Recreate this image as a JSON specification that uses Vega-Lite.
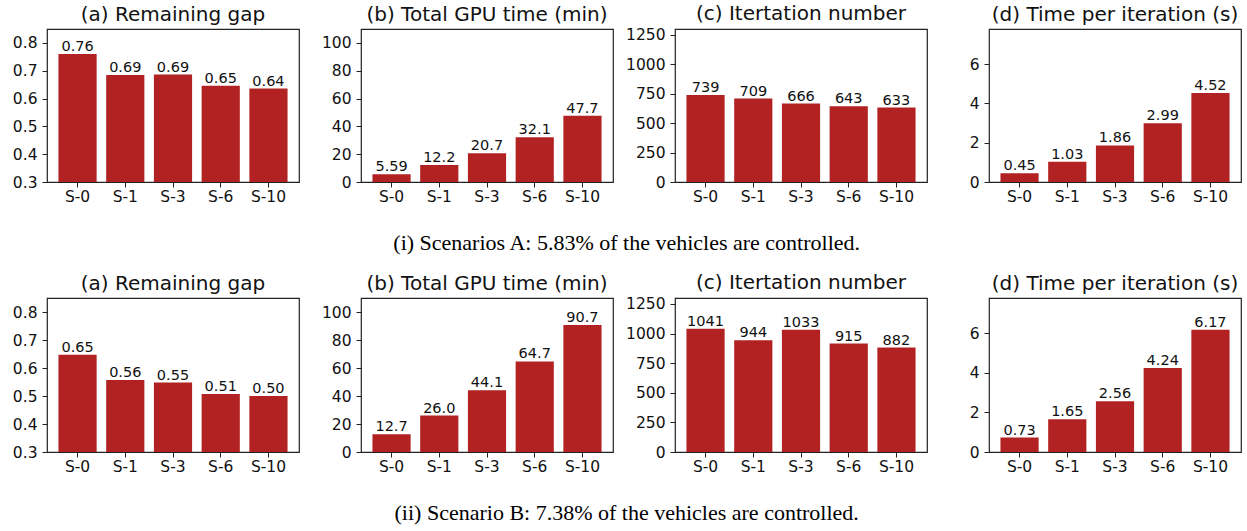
{
  "$schema": "https://vega.github.io/schema/vega-lite/v6.json",
  "padding": {"left": 11, "top": 3, "right": 2, "bottom": 2},
  "background": "white",
  "datasets": {
    "d": [
      {"sc": "A", "m": "a", "s": "S-0", "v": 0.76},
      {"sc": "A", "m": "a", "s": "S-1", "v": 0.685},
      {"sc": "A", "m": "a", "s": "S-3", "v": 0.686},
      {"sc": "A", "m": "a", "s": "S-6", "v": 0.646},
      {"sc": "A", "m": "a", "s": "S-10", "v": 0.636},
      {"sc": "A", "m": "b", "s": "S-0", "v": 5.59},
      {"sc": "A", "m": "b", "s": "S-1", "v": 12.2},
      {"sc": "A", "m": "b", "s": "S-3", "v": 20.7},
      {"sc": "A", "m": "b", "s": "S-6", "v": 32.1},
      {"sc": "A", "m": "b", "s": "S-10", "v": 47.7},
      {"sc": "A", "m": "c", "s": "S-0", "v": 739},
      {"sc": "A", "m": "c", "s": "S-1", "v": 709},
      {"sc": "A", "m": "c", "s": "S-3", "v": 666},
      {"sc": "A", "m": "c", "s": "S-6", "v": 643},
      {"sc": "A", "m": "c", "s": "S-10", "v": 633},
      {"sc": "A", "m": "d", "s": "S-0", "v": 0.45},
      {"sc": "A", "m": "d", "s": "S-1", "v": 1.03},
      {"sc": "A", "m": "d", "s": "S-3", "v": 1.86},
      {"sc": "A", "m": "d", "s": "S-6", "v": 2.99},
      {"sc": "A", "m": "d", "s": "S-10", "v": 4.52},
      {"sc": "B", "m": "a", "s": "S-0", "v": 0.647},
      {"sc": "B", "m": "a", "s": "S-1", "v": 0.557},
      {"sc": "B", "m": "a", "s": "S-3", "v": 0.548},
      {"sc": "B", "m": "a", "s": "S-6", "v": 0.507},
      {"sc": "B", "m": "a", "s": "S-10", "v": 0.5},
      {"sc": "B", "m": "b", "s": "S-0", "v": 12.7},
      {"sc": "B", "m": "b", "s": "S-1", "v": 26.0},
      {"sc": "B", "m": "b", "s": "S-3", "v": 44.1},
      {"sc": "B", "m": "b", "s": "S-6", "v": 64.7},
      {"sc": "B", "m": "b", "s": "S-10", "v": 90.7},
      {"sc": "B", "m": "c", "s": "S-0", "v": 1041},
      {"sc": "B", "m": "c", "s": "S-1", "v": 944},
      {"sc": "B", "m": "c", "s": "S-3", "v": 1033},
      {"sc": "B", "m": "c", "s": "S-6", "v": 915},
      {"sc": "B", "m": "c", "s": "S-10", "v": 882},
      {"sc": "B", "m": "d", "s": "S-0", "v": 0.73},
      {"sc": "B", "m": "d", "s": "S-1", "v": 1.65},
      {"sc": "B", "m": "d", "s": "S-3", "v": 2.56},
      {"sc": "B", "m": "d", "s": "S-6", "v": 4.24},
      {"sc": "B", "m": "d", "s": "S-10", "v": 6.17}
    ]
  },
  "config": {
    "view": {"stroke": "#222222", "strokeWidth": 1.2},
    "axis": {
      "domain": false,
      "grid": false,
      "ticks": true,
      "tickColor": "#222222",
      "tickSize": 5,
      "tickWidth": 1,
      "labelFont": "DejaVu Sans",
      "labelFontSize": 15.5,
      "labelColor": "#111111",
      "title": null
    },
    "axisX": {"labelAngle": 0, "labelPadding": 2},
    "axisY": {"labelPadding": 5},
    "title": {"font": "DejaVu Sans", "fontSize": 20, "fontWeight": "normal", "color": "#111111", "offset": 4},
    "text": {"font": "DejaVu Sans", "fontSize": 14.5, "color": "#111111"},
    "bar": {"color": "#b22222"}
  },
  "spacing": 17,
  "vconcat": [
    {
      "spacing": 62,
      "bounds": "flush",
      "title": {"text": "(i) Scenarios A: 5.83% of the vehicles are controlled.", "orient": "bottom", "anchor": "middle", "font": "Liberation Serif", "fontSize": 22, "fontWeight": "normal", "offset": 28, "color": "#000000"},
      "hconcat": [
        {
          "width": 252, "height": 153,
          "title": "(a) Remaining gap",
          "data": {"name": "d"},
          "transform": [{"filter": "datum.sc == 'A' && datum.m == 'a'"}],
          "encoding": {
            "x": {"field": "s", "type": "nominal", "sort": null, "scale": {"paddingInner": 0.2, "paddingOuter": 0.24}},
            "y": {"field": "v", "type": "quantitative", "scale": {"domain": [0.3, 0.85], "nice": false, "zero": false}, "axis": {"values": [0.3, 0.4, 0.5, 0.6, 0.7, 0.8], "format": ".1f"}}
          },
          "layer": [
            {"mark": {"type": "bar", "clip": true}},
            {"mark": {"type": "text", "dy": -3, "baseline": "alphabetic"}, "encoding": {"text": {"field": "v", "format": ".2f"}}}
          ]
        },
        {
          "width": 252, "height": 153,
          "title": "(b) Total GPU time (min)",
          "data": {"name": "d"},
          "transform": [{"filter": "datum.sc == 'A' && datum.m == 'b'"}],
          "encoding": {
            "x": {"field": "s", "type": "nominal", "sort": null, "scale": {"paddingInner": 0.2, "paddingOuter": 0.24}},
            "y": {"field": "v", "type": "quantitative", "scale": {"domain": [0, 110], "nice": false}, "axis": {"values": [0, 20, 40, 60, 80, 100], "format": "d"}}
          },
          "layer": [
            {"mark": {"type": "bar", "clip": true}},
            {"mark": {"type": "text", "dy": -3, "baseline": "alphabetic"}, "encoding": {"text": {"field": "v", "format": ".3r"}}}
          ]
        },
        {
          "width": 252, "height": 153,
          "title": "(c) Itertation number",
          "data": {"name": "d"},
          "transform": [{"filter": "datum.sc == 'A' && datum.m == 'c'"}],
          "encoding": {
            "x": {"field": "s", "type": "nominal", "sort": null, "scale": {"paddingInner": 0.2, "paddingOuter": 0.24}},
            "y": {"field": "v", "type": "quantitative", "scale": {"domain": [0, 1300], "nice": false}, "axis": {"values": [0, 250, 500, 750, 1000, 1250], "format": "d"}}
          },
          "layer": [
            {"mark": {"type": "bar", "clip": true}},
            {"mark": {"type": "text", "dy": -3, "baseline": "alphabetic"}, "encoding": {"text": {"field": "v", "format": "d"}}}
          ]
        },
        {
          "width": 252, "height": 153,
          "title": "(d) Time per iteration (s)",
          "data": {"name": "d"},
          "transform": [{"filter": "datum.sc == 'A' && datum.m == 'd'"}],
          "encoding": {
            "x": {"field": "s", "type": "nominal", "sort": null, "scale": {"paddingInner": 0.2, "paddingOuter": 0.24}},
            "y": {"field": "v", "type": "quantitative", "scale": {"domain": [0, 7.78], "nice": false}, "axis": {"values": [0, 2, 4, 6], "format": "d"}}
          },
          "layer": [
            {"mark": {"type": "bar", "clip": true}},
            {"mark": {"type": "text", "dy": -3, "baseline": "alphabetic"}, "encoding": {"text": {"field": "v", "format": ".2f"}}}
          ]
        }
      ]
    },
    {
      "spacing": 62,
      "bounds": "flush",
      "title": {"text": "(ii) Scenario B: 7.38% of the vehicles are controlled.", "orient": "bottom", "anchor": "middle", "font": "Liberation Serif", "fontSize": 22, "fontWeight": "normal", "offset": 28, "color": "#000000"},
      "hconcat": [
        {
          "width": 252, "height": 154,
          "title": "(a) Remaining gap",
          "data": {"name": "d"},
          "transform": [{"filter": "datum.sc == 'B' && datum.m == 'a'"}],
          "encoding": {
            "x": {"field": "s", "type": "nominal", "sort": null, "scale": {"paddingInner": 0.2, "paddingOuter": 0.24}},
            "y": {"field": "v", "type": "quantitative", "scale": {"domain": [0.3, 0.85], "nice": false, "zero": false}, "axis": {"values": [0.3, 0.4, 0.5, 0.6, 0.7, 0.8], "format": ".1f"}}
          },
          "layer": [
            {"mark": {"type": "bar", "clip": true}},
            {"mark": {"type": "text", "dy": -3, "baseline": "alphabetic"}, "encoding": {"text": {"field": "v", "format": ".2f"}}}
          ]
        },
        {
          "width": 252, "height": 154,
          "title": "(b) Total GPU time (min)",
          "data": {"name": "d"},
          "transform": [{"filter": "datum.sc == 'B' && datum.m == 'b'"}],
          "encoding": {
            "x": {"field": "s", "type": "nominal", "sort": null, "scale": {"paddingInner": 0.2, "paddingOuter": 0.24}},
            "y": {"field": "v", "type": "quantitative", "scale": {"domain": [0, 110], "nice": false}, "axis": {"values": [0, 20, 40, 60, 80, 100], "format": "d"}}
          },
          "layer": [
            {"mark": {"type": "bar", "clip": true}},
            {"mark": {"type": "text", "dy": -3, "baseline": "alphabetic"}, "encoding": {"text": {"field": "v", "format": ".3r"}}}
          ]
        },
        {
          "width": 252, "height": 154,
          "title": "(c) Itertation number",
          "data": {"name": "d"},
          "transform": [{"filter": "datum.sc == 'B' && datum.m == 'c'"}],
          "encoding": {
            "x": {"field": "s", "type": "nominal", "sort": null, "scale": {"paddingInner": 0.2, "paddingOuter": 0.24}},
            "y": {"field": "v", "type": "quantitative", "scale": {"domain": [0, 1300], "nice": false}, "axis": {"values": [0, 250, 500, 750, 1000, 1250], "format": "d"}}
          },
          "layer": [
            {"mark": {"type": "bar", "clip": true}},
            {"mark": {"type": "text", "dy": -3, "baseline": "alphabetic"}, "encoding": {"text": {"field": "v", "format": "d"}}}
          ]
        },
        {
          "width": 252, "height": 154,
          "title": "(d) Time per iteration (s)",
          "data": {"name": "d"},
          "transform": [{"filter": "datum.sc == 'B' && datum.m == 'd'"}],
          "encoding": {
            "x": {"field": "s", "type": "nominal", "sort": null, "scale": {"paddingInner": 0.2, "paddingOuter": 0.24}},
            "y": {"field": "v", "type": "quantitative", "scale": {"domain": [0, 7.78], "nice": false}, "axis": {"values": [0, 2, 4, 6], "format": "d"}}
          },
          "layer": [
            {"mark": {"type": "bar", "clip": true}},
            {"mark": {"type": "text", "dy": -3, "baseline": "alphabetic"}, "encoding": {"text": {"field": "v", "format": ".2f"}}}
          ]
        }
      ]
    }
  ]
}
